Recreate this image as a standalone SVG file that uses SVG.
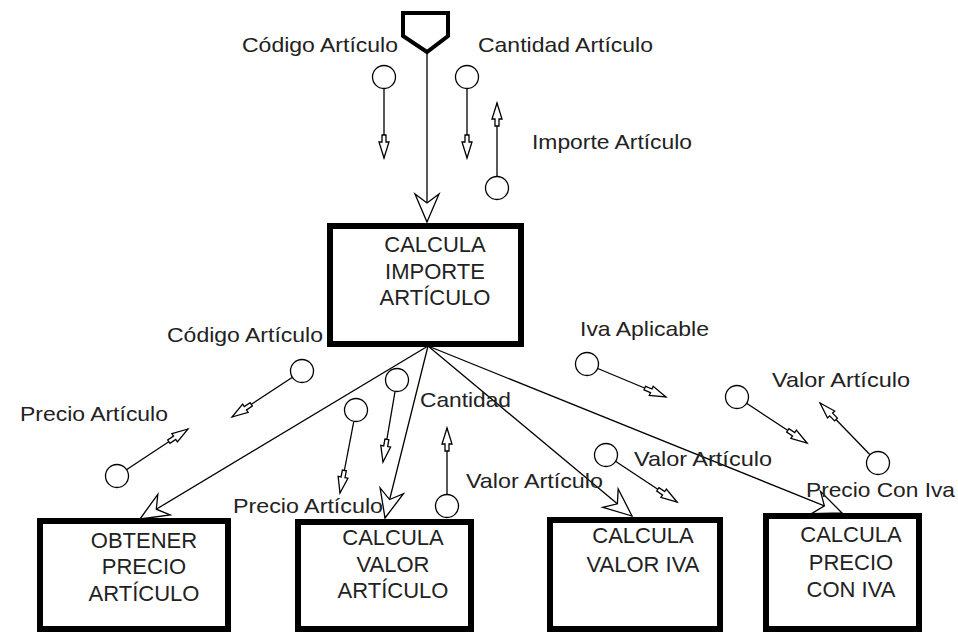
<svg xmlns="http://www.w3.org/2000/svg" xmlns:xlink="http://www.w3.org/1999/xlink" width="958" height="632" viewBox="0 0 958 632">
<style>
.box{fill:#fff;stroke:#000;stroke-width:6}
.bt{font-family:"Liberation Sans",Arial,sans-serif;font-size:22px;fill:#222;text-anchor:middle}
.lb{font-family:"Liberation Sans",Arial,sans-serif;font-size:21px;fill:#222}
.ln{stroke:#000;stroke-width:1.3;fill:none}
.cp{fill:#fff;stroke:#000;stroke-width:1.3}
</style>
<defs>
<path id="ca" d="M0,0 L-16,-5 L-16,-2 L-23,-2 L-23,2 L-16,2 L-16,5 Z" fill="#fff" stroke="#000" stroke-width="1.3"/>
<path id="ma" d="M0,0 L-28,-12 L-19,0 L-28,12 Z" fill="#fff" stroke="#000" stroke-width="1.3"/>
</defs>
<rect width="958" height="632" fill="#fff"/>
<g id="connectors">
<path d="M403,13 L448,13 L448,36 L427,52 L403,36 Z" fill="#fff" stroke="#000" stroke-width="4"/>
<line class="ln" x1="427" y1="52" x2="427" y2="222"/>
<use xlink:href="#ma" transform="translate(427,222) rotate(90)"/>
<line class="ln" x1="428" y1="346" x2="140" y2="519"/>
<use xlink:href="#ma" transform="translate(140,519) rotate(149)"/>
<line class="ln" x1="428" y1="346" x2="385" y2="518"/>
<use xlink:href="#ma" transform="translate(385,518) rotate(104)"/>
<line class="ln" x1="428" y1="346" x2="632" y2="516"/>
<use xlink:href="#ma" transform="translate(632,516) rotate(39.8)"/>
<line class="ln" x1="428" y1="346" x2="842" y2="513"/>
<use xlink:href="#ma" transform="translate(842,513) rotate(22)"/>
</g>
<g id="couples">
<line class="ln" x1="384" y1="77" x2="384" y2="158"/>
<line class="ln" x1="467" y1="77" x2="467" y2="158"/>
<line class="ln" x1="497" y1="188" x2="497" y2="103"/>
<line class="ln" x1="302" y1="371" x2="232" y2="417"/>
<line class="ln" x1="117" y1="476" x2="188" y2="429"/>
<line class="ln" x1="397" y1="380" x2="383" y2="462"/>
<line class="ln" x1="356" y1="410" x2="340" y2="493"/>
<line class="ln" x1="447" y1="506" x2="447" y2="428"/>
<line class="ln" x1="606" y1="455" x2="677" y2="502"/>
<line class="ln" x1="587" y1="364" x2="666" y2="397"/>
<line class="ln" x1="737" y1="397" x2="807" y2="443"/>
<line class="ln" x1="878" y1="463" x2="820" y2="403"/>
<circle class="cp" cx="384" cy="77" r="11.5"/>
<circle class="cp" cx="467" cy="77" r="11.5"/>
<circle class="cp" cx="497" cy="188" r="11.5"/>
<circle class="cp" cx="302" cy="371" r="11.5"/>
<circle class="cp" cx="117" cy="476" r="11.5"/>
<circle class="cp" cx="397" cy="380" r="11.5"/>
<circle class="cp" cx="356" cy="410" r="11.5"/>
<circle class="cp" cx="447" cy="506" r="11.5"/>
<circle class="cp" cx="606" cy="455" r="11.5"/>
<circle class="cp" cx="587" cy="364" r="11.5"/>
<circle class="cp" cx="737" cy="397" r="11.5"/>
<circle class="cp" cx="878" cy="463" r="11.5"/>
<use xlink:href="#ca" transform="translate(384,158) rotate(90)"/>
<use xlink:href="#ca" transform="translate(467,158) rotate(90)"/>
<use xlink:href="#ca" transform="translate(497,103) rotate(-90)"/>
<use xlink:href="#ca" transform="translate(232,417) rotate(146.7)"/>
<use xlink:href="#ca" transform="translate(188,429) rotate(-33.5)"/>
<use xlink:href="#ca" transform="translate(383,462) rotate(99.7)"/>
<use xlink:href="#ca" transform="translate(340,493) rotate(100.9)"/>
<use xlink:href="#ca" transform="translate(447,428) rotate(-90)"/>
<use xlink:href="#ca" transform="translate(677,502) rotate(33.5)"/>
<use xlink:href="#ca" transform="translate(666,397) rotate(22.7)"/>
<use xlink:href="#ca" transform="translate(807,443) rotate(33.3)"/>
<use xlink:href="#ca" transform="translate(820,403) rotate(-134)"/>
</g>
<g id="labels">
<text class="lb" x="242" y="52" textLength="156" lengthAdjust="spacingAndGlyphs">Código Artículo</text>
<text class="lb" x="478" y="52" textLength="175" lengthAdjust="spacingAndGlyphs">Cantidad Artículo</text>
<text class="lb" x="532" y="149" textLength="160" lengthAdjust="spacingAndGlyphs">Importe Artículo</text>
<text class="lb" x="167" y="342" textLength="156" lengthAdjust="spacingAndGlyphs">Código Artículo</text>
<text class="lb" x="20" y="421" textLength="148" lengthAdjust="spacingAndGlyphs">Precio Artículo</text>
<text class="lb" x="420" y="407" textLength="91" lengthAdjust="spacingAndGlyphs">Cantidad</text>
<text class="lb" x="233" y="513" textLength="150" lengthAdjust="spacingAndGlyphs">Precio Artículo</text>
<text class="lb" x="466" y="488" textLength="137" lengthAdjust="spacingAndGlyphs">Valor Artículo</text>
<text class="lb" x="634" y="466" textLength="138" lengthAdjust="spacingAndGlyphs">Valor Artículo</text>
<text class="lb" x="580" y="336" textLength="129" lengthAdjust="spacingAndGlyphs">Iva Aplicable</text>
<text class="lb" x="772" y="387" textLength="138" lengthAdjust="spacingAndGlyphs">Valor Artículo</text>
<text class="lb" x="806" y="497" textLength="149" lengthAdjust="spacingAndGlyphs">Precio Con Iva</text>
</g>
<g id="node-calcula-importe">
<rect class="box" x="330" y="226" width="191" height="118"/>
<text class="bt" x="435" y="252">CALCULA</text>
<text class="bt" x="435" y="279">IMPORTE</text>
<text class="bt" x="435" y="305">ARTÍCULO</text>
</g>
<g id="node-obtener-precio">
<rect class="box" x="40" y="521" width="188" height="108"/>
<text class="bt" x="144" y="548">OBTENER</text>
<text class="bt" x="144" y="574">PRECIO</text>
<text class="bt" x="144" y="601">ARTÍCULO</text>
</g>
<g id="node-calcula-valor">
<rect class="box" x="298" y="522" width="173" height="107"/>
<text class="bt" x="393" y="545">CALCULA</text>
<text class="bt" x="393" y="572">VALOR</text>
<text class="bt" x="393" y="598">ARTÍCULO</text>
</g>
<g id="node-calcula-iva">
<rect class="box" x="550" y="520" width="170" height="109"/>
<text class="bt" x="643" y="543">CALCULA</text>
<text class="bt" x="643" y="572">VALOR IVA</text>
</g>
<g id="node-calcula-precio-iva">
<rect class="box" x="766" y="516" width="153" height="113"/>
<text class="bt" x="851" y="542">CALCULA</text>
<text class="bt" x="851" y="570">PRECIO</text>
<text class="bt" x="851" y="597">CON IVA</text>
</g>
</svg>
